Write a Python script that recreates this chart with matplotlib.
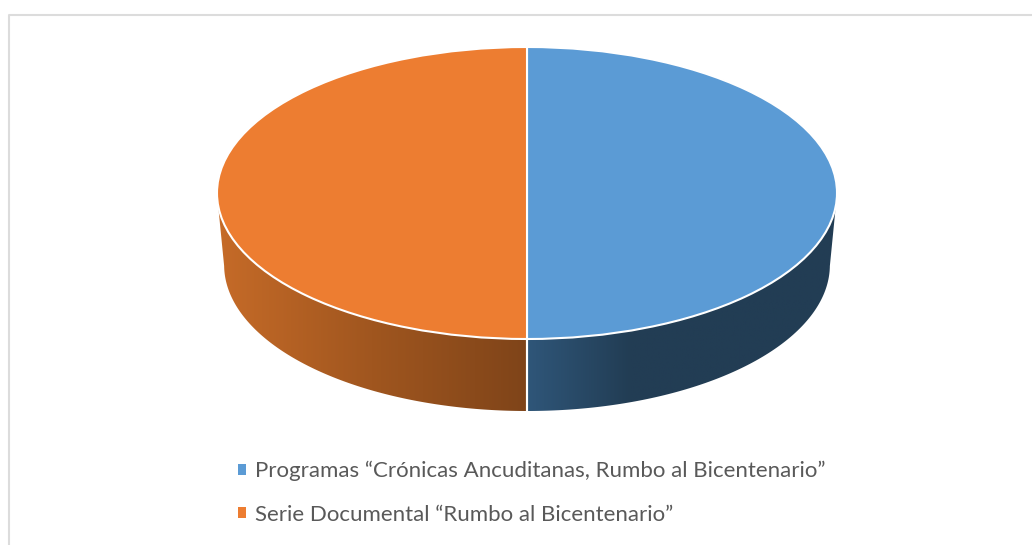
import numpy as np
import matplotlib
matplotlib.use('Agg')
import matplotlib.pyplot as plt
from matplotlib.colors import LinearSegmentedColormap
from matplotlib.patches import Polygon

labels = ['Programas “Crónicas Ancuditanas, Rumbo al Bicentenario”',
          'Serie Documental “Rumbo al Bicentenario”']
values = [50, 50]
colors = ['#5b9bd5', '#ed7d31']
wall_colors = [['#2f5679', '#223d54', '#223d54', '#223d54'],
               ['#c66b28', '#a0561f', '#7f4419']]

W, H = 1032, 545
fig = plt.figure(figsize=(W / 100, H / 100), dpi=100, facecolor='white')

# frame, in pixels of the picture
bg = fig.add_axes([0, 0, 1, 1])
bg.set_xlim(0, W)
bg.set_ylim(H, 0)
bg.axis('off')
bg.plot([8.5, 8.5, W], [H, 15, 15], color='#dcdcdc', lw=1.5)

# pie lying flat: top ellipse 217..837 x 47..339, wall 72px deep
left, right, top, bottom, depth = 217, 837, 47, 339, 72
shrink = 0.977  # far edge of the wall is a bit narrower, perspective
ry = (bottom - top) / 2
ax = fig.add_axes([left / W, (H - bottom - depth) / H,
                   (right - left) / W, (bottom - top + depth) / H])
wedges, _ = ax.pie(values, colors=colors, startangle=90, counterclock=False,
                   radius=1, wedgeprops={'edgecolor': 'white', 'linewidth': 1.5, 'zorder': 5})
d = depth / ry

for w, cols, i in zip(wedges, wall_colors, range(len(wedges))):
    t1, t2 = sorted([w.theta1, w.theta2])
    t = np.linspace(t1, t2, 240)
    t = t[np.sin(np.radians(t)) <= 1e-9]  # only the front of the rim shows
    a = np.radians(t)
    x, y = np.cos(a), np.sin(a)
    pts = np.r_[np.c_[x, y], np.c_[x * shrink, y - d][::-1]]
    outline = Polygon(pts, closed=True, fc='none', ec='none', zorder=3)
    ax.add_patch(outline)
    cmap = LinearSegmentedColormap.from_list('wall%d' % i, cols)
    ramp = np.linspace(0, 1, 256).reshape(1, -1)
    im = ax.imshow(ramp, cmap=cmap, aspect='auto', zorder=2,
                   extent=(x.min(), x.max(), (y - d).min(), y.max()))
    im.set_clip_path(outline)
    # white seam where the wall pieces meet
    ix = np.argmax(np.abs(x) < 1e-6) if (np.abs(x) < 1e-6).any() else None
    if ix is not None:
        ax.plot([x[ix], x[ix] * shrink], [y[ix], y[ix] - d], color='white', lw=1.5, zorder=4)

ax.set_xlim(-1, 1)
ax.set_ylim(-1 - d, 1)
ax.set_aspect('auto')

leg = fig.legend(wedges, labels, loc='upper left', bbox_to_anchor=(238 / W, 1 - 461 / H),
                 frameon=False, prop={'family': 'Lato', 'size': 16},
                 labelcolor='#595959', handlelength=0.36, handleheight=0.36,
                 handletextpad=0.42, labelspacing=1.05, borderpad=0, borderaxespad=0)
for h, c in zip(leg.legend_handles, colors):
    h.set_edgecolor(c)
    h.set_linewidth(0)

fig.savefig('out.png', dpi=100)
